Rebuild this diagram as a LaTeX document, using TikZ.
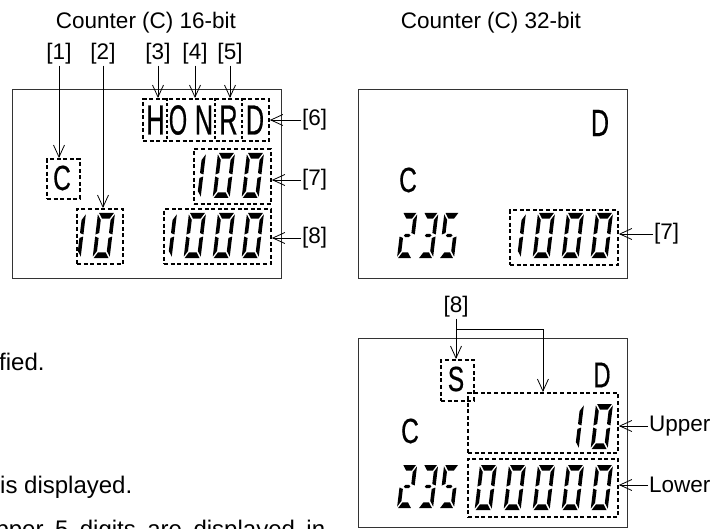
\documentclass[tikz,border=0pt]{standalone}
\usepackage{fontspec}
\setmainfont{Liberation Sans}
\newfontfamily\lcdfont[FakeBold=0.6]{Liberation Sans}
\usetikzlibrary{arrows.meta}
\newcommand\lcdtxt[3]{\scalebox{#2}[1]{\fontsize{#1}{#1}\lcdfont #3}}
\def\vth{3.6}
\def\hth{5.6}
\newcommand\segA{\fill (1.1,\dH) -- ({\dW-1.1},\dH) -- ({\dW-1.1-\vth},{\dH-\hth}) -- ({1.1+\vth},{\dH-\hth}) -- cycle;}
\newcommand\segD{\fill (1.1,0) -- ({\dW-1.1},0) -- ({\dW-1.1-\vth},\hth) -- ({1.1+\vth},\hth) -- cycle;}
\newcommand\segF{\fill (0,{\dH/2+1}) -- (0,{\dH-1.4}) -- (\vth,{\dH-1.4-\hth}) -- (\vth,{\dH/2+2.5}) -- cycle;}
\newcommand\segE{\fill (0,{\dH/2-1}) -- (0,1.4) -- (\vth,{1.4+\hth}) -- (\vth,{\dH/2-2.5}) -- cycle;}
\newcommand\segB{\fill (\dW,{\dH/2+1}) -- (\dW,{\dH-1.4}) -- ({\dW-\vth},{\dH-1.4-\hth}) -- ({\dW-\vth},{\dH/2+2.5}) -- cycle;}
\newcommand\segC{\fill (\dW,{\dH/2-1}) -- (\dW,1.4) -- ({\dW-\vth},{1.4+\hth}) -- ({\dW-\vth},{\dH/2-2.5}) -- cycle;}
\newcommand\segG{\fill ({\vth+0.6},{\dH/2}) -- ({\vth+2.1},{\dH/2+1.6}) -- ({\dW-\vth-2.1},{\dH/2+1.6}) -- ({\dW-\vth-0.6},{\dH/2}) -- ({\dW-\vth-2.1},{\dH/2-1.6}) -- ({\vth+2.1},{\dH/2-1.6}) -- cycle;}
\newcommand\sdigit[5]{\begin{scope}[shift={(#1,#2)},yscale=-1,xslant=-0.12]\def\dW{#3}\def\dH{#4}\foreach \sg in {#5}{\csname seg\sg\endcsname}\end{scope}}
\begin{document}
\begin{tikzpicture}[x=1pt,y=-1pt,
  panel/.style={draw=black!80, line width=1.1pt, inner sep=0pt, anchor=north west},
  dbox/.style={draw, line width=1.9pt, dash pattern=on 4pt off 2.6pt, inner sep=0pt, anchor=north west},
  sepl/.style={line width=1.6pt, dash pattern=on 3pt off 2.5pt},
  arr/.style={line width=0.8pt, -{Straight Barb[length=12pt,width=11pt]}},
  lbl/.style={font=\fontsize{22.5}{24}\selectfont, inner sep=1pt},
  body/.style={font=\fontsize{24}{28}\selectfont, inner sep=0pt, anchor=base west},
  big/.style={inner sep=0pt}]
\useasboundingbox (0,0) rectangle (727,529);
\clip (0,0) rectangle (727,529);
% titles
\node[lbl, anchor=base] (t16) at (146,29) {Counter (C) 16-bit};
\node[lbl, anchor=base] (t32) at (491,29) {Counter (C) 32-bit};
% panels
\node[panel, minimum width=269pt, minimum height=189pt] (p1) at (12,89) {};
\node[panel, minimum width=269.5pt, minimum height=189pt] (p2) at (357.5,89) {};
\node[panel, minimum width=269.5pt, minimum height=189pt] (p3) at (357.5,338) {};
% dashed boxes
\node[dbox, minimum width=33pt, minimum height=40pt] (cbox) at (46,158) {};
\node[dbox, minimum width=126pt, minimum height=42pt] (hbox) at (142,98) {};
\node[dbox, minimum width=77pt, minimum height=55pt] (b100) at (193,148) {};
\node[dbox, minimum width=46pt, minimum height=55pt] (b10) at (76,208) {};
\node[dbox, minimum width=107pt, minimum height=55pt] (b1000) at (163,208) {};
\node[dbox, minimum width=108pt, minimum height=55pt] (rb1000) at (509,209) {};
\node[dbox, minimum width=33pt, minimum height=41pt] (sbox) at (440,359) {};
\node[dbox, minimum width=150pt, minimum height=60pt] (upbox) at (467,392) {};
\node[dbox, minimum width=150pt, minimum height=58pt] (lowbox) at (467,458) {};
\draw[sepl] (167,98) -- (167,140);
\draw[sepl] (215,98) -- (215,140);
\draw[sepl] (242,98) -- (242,140);
% letters
\node[big] (lH) at (155.5,120) {\lcdtxt{42}{0.6}{H}};
\node[big] (lO) at (178,120) {\lcdtxt{42}{0.56}{O}};
\node[big] (lN) at (204,120) {\lcdtxt{42}{0.6}{N}};
\node[big] (lR) at (228.5,120) {\lcdtxt{42}{0.6}{R}};
\node[big] (lD) at (255,120) {\lcdtxt{42}{0.6}{D}};
\node[big] (lC) at (62,178) {\lcdtxt{35}{0.7}{C}};
\node[big] (rD) at (600,123) {\lcdtxt{38}{0.66}{D}};
\node[big] (rC) at (408,180) {\lcdtxt{35}{0.7}{C}};
\node[big] (bS) at (456,379) {\lcdtxt{35}{0.7}{S}};
\node[big] (bD) at (602,375) {\lcdtxt{36}{0.66}{D}};
\node[big] (bC) at (410,431) {\lcdtxt{35}{0.7}{C}};
% digits left panel
\sdigit{183.6}{198}{17}{45}{B,C}
\sdigit{212.6}{198}{17}{45}{A,B,C,D,E,F}
\sdigit{241.6}{198}{17}{45}{A,B,C,D,E,F}
\sdigit{154.6}{258}{17}{45}{B,C}
\sdigit{183.6}{258}{17}{45}{A,B,C,D,E,F}
\sdigit{212.6}{258}{17}{45}{A,B,C,D,E,F}
\sdigit{241.6}{258}{17}{45}{A,B,C,D,E,F}
\sdigit{63.6}{258}{17}{45}{B,C}
\sdigit{92.6}{258}{17}{45}{A,B,C,D,E,F}
% digits right top panel
\sdigit{397}{258}{15}{45}{A,B,G,E,D}
\sdigit{418}{258}{15}{45}{A,B,G,C,D}
\sdigit{439}{258}{15}{45}{A,F,G,C,D}
\sdigit{503.6}{258}{17}{45}{B,C}
\sdigit{532.6}{258}{17}{45}{A,B,C,D,E,F}
\sdigit{561.6}{258}{17}{45}{A,B,C,D,E,F}
\sdigit{590.6}{258}{17}{45}{A,B,C,D,E,F}
% digits bottom panel
\sdigit{397}{508}{15}{43}{A,B,G,E,D}
\sdigit{418}{508}{15}{43}{A,B,G,C,D}
\sdigit{439}{508}{15}{43}{A,F,G,C,D}
\sdigit{561.6}{449}{17}{45}{B,C}
\sdigit{590.6}{449}{17}{45}{A,B,C,D,E,F}
\sdigit{474.6}{510}{17}{45}{A,B,C,D,E,F}
\sdigit{503.6}{510}{17}{45}{A,B,C,D,E,F}
\sdigit{532.6}{510}{17}{45}{A,B,C,D,E,F}
\sdigit{561.6}{510}{17}{45}{A,B,C,D,E,F}
\sdigit{590.6}{510}{17}{45}{A,B,C,D,E,F}
% labels
\node[lbl] (l1) at (59,54) {[1]};
\node[lbl] (l2) at (103,54) {[2]};
\node[lbl] (l3) at (158,54) {[3]};
\node[lbl] (l4) at (195,54) {[4]};
\node[lbl] (l5) at (230,54) {[5]};
\node[lbl, anchor=west] (l6) at (301,120) {[6]};
\node[lbl, anchor=west] (l7) at (301,180) {[7]};
\node[lbl, anchor=west] (l8) at (301,238) {[8]};
\node[lbl, anchor=west] (r7) at (653,234) {[7]};
\node[lbl] (b8) at (456,307) {[8]};
\node[lbl, anchor=west] (lup) at (648,426) {Upper};
\node[lbl, anchor=west] (llow) at (648,485) {Lower};
\coordinate (j8) at (456,329);
% arrows
\draw[arr] (l1.south) -- (l1.south |- cbox.north);
\draw[arr] (l2.south) -- (l2.south |- b10.north);
\draw[arr] (l3.south) -- (l3.south |- hbox.north);
\draw[arr] (l4.south) -- (l4.south |- hbox.north);
\draw[arr] (l5.south) -- (l5.south |- hbox.north);
\draw[arr] (l6.west) -- (l6.west -| hbox.east);
\draw[arr] (l7.west) -- (l7.west -| b100.east);
\draw[arr] (l8.west) -- (l8.west -| b1000.east);
\draw[arr] (r7.west) -- (r7.west -| rb1000.east);
\draw[arr] (b8.south) -- (b8.south |- sbox.north);
\draw[arr] (j8) -| (upbox.north);
\draw[arr] (lup.west) -- (lup.west -| upbox.east);
\draw[arr] (llow.west) -- (llow.west -| lowbox.east);
% body text
\node[body] (tx1) at (-1,370) {fied.};
\node[body] (tx2) at (0,493) {is displayed.};
\node[body] (tx3) at (-22,537) {\makebox[347pt][s]{Upper 5 digits are displayed in}};
\end{tikzpicture}
\end{document}
